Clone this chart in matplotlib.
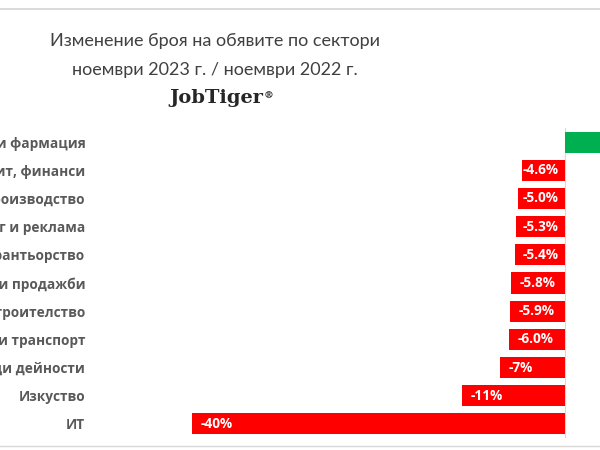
import matplotlib
matplotlib.use("Agg")
import matplotlib.pyplot as plt
from matplotlib.lines import Line2D

# Sector names (the image is cropped on the left, so labels are cut off)
sectors = [
    "Медицина и фармация",
    "Счетоводство, одит, финанси",
    "Производство",
    "Маркетинг и реклама",
    "Ресторантьорство",
    "Търговия и продажби",
    "Строителство",
    "Логистика и транспорт",
    "ди дейности",
    "Изкуство",
    "ИТ",
]
# change Nov 2023 vs Nov 2022, %
change = [8.0, -4.6, -5.0, -5.3, -5.4, -5.8, -5.9, -6.0, -7.0, -11.0, -40.0]
value_labels = ["", "-4.6%", "-5.0%", "-5.3%", "-5.4%", "-5.8%", "-5.9%",
                "-6.0%", "-7%", "-11%", "-40%"]

RED = "#FF0000"
GREEN = "#00B050"
LABEL_GRAY = "#595959"

plt.rcParams['font.family'] = ['Open Sans', 'DejaVu Sans']

fig = plt.figure(figsize=(6, 4.5), dpi=100)
fig.patch.set_facecolor("white")

# axes: x from 95px to 600px, y from 128px to 438px
ax = fig.add_axes([95 / 600, (450 - 438) / 450, 505 / 600, 310 / 450])
ypos = list(range(len(sectors)))
colors = [GREEN if v > 0 else RED for v in change]
ax.barh(ypos, change, height=0.75, color=colors, zorder=2)

ax.set_xlim(-50.4, 3.75)
ax.set_ylim(len(sectors) - 0.5, -0.5)
ax.set_yticks(ypos)
ax.set_yticklabels(sectors, fontsize=9.8, fontweight="bold", color=LABEL_GRAY)
ax.tick_params(axis="y", length=0, pad=7)
ax.set_xticks([])
for s in ax.spines.values():
    s.set_visible(False)
ax.axvline(0, color="#d9d9d9", lw=0.8, zorder=1)

# value labels at the far (left) end of the red bars; pushed back when the bar is short
for y, v, lab in zip(ypos, change, value_labels):
    if not lab:
        continue
    x = min(v + 0.9, -4.6)
    x = max(x, v)
    ax.text(x, y, lab, ha="left", va="center", color="white",
            fontsize=9.8, fontweight="bold", zorder=3)

# title
title_kw = dict(ha="center", va="center", fontsize=13, color="#404040",
                family=["Lato", "DejaVu Sans"])
fig.text(215 / 600, 1 - 41 / 450, "Изменение броя на обявите по сектори", **title_kw)
fig.text(215 / 600, 1 - 70 / 450, "ноември 2023 г. / ноември 2022 г.", **title_kw)

logo = fig.text(216 / 600, 1 - 98 / 450, "JobTiger", ha="center", va="center",
                fontsize=14, fontweight="bold", color="#262626", family="DejaVu Serif")
fig.canvas.draw()
bb = logo.get_window_extent()
fig.text((bb.x1 + 1) / 600, (bb.y1 - 2) / 450, "®", ha="left", va="top",
         fontsize=7, fontweight="bold", color="#262626", family="DejaVu Serif")

# thin frame lines of the screenshot
fig.add_artist(Line2D([0, 1], [1 - 8.5 / 450] * 2, color="#d4d4d4", lw=1.2))
fig.add_artist(Line2D([0, 1], [1 - 446 / 450] * 2, color="#d9d9d9", lw=1.0))

fig.savefig("out.png", dpi=100, facecolor="white")
